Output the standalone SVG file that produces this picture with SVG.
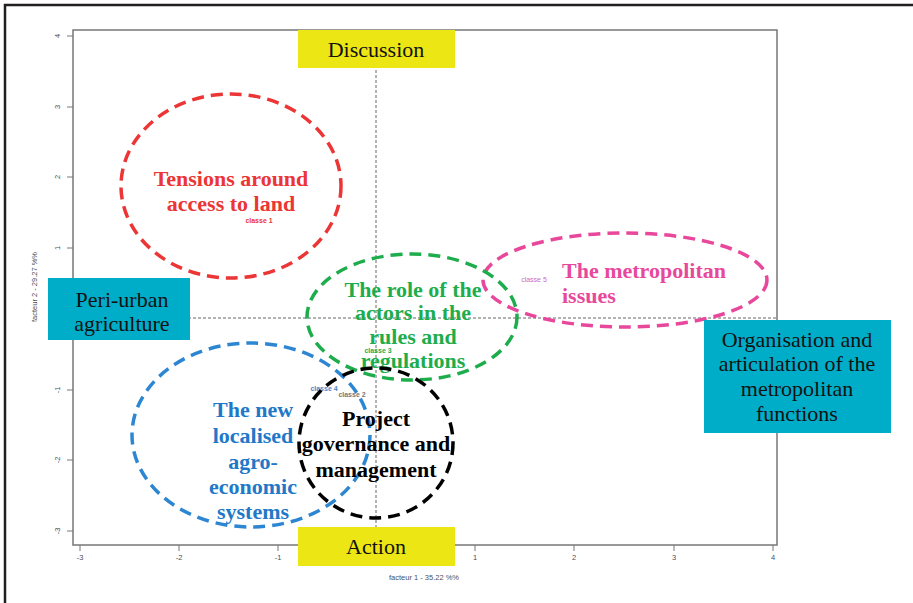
<svg xmlns="http://www.w3.org/2000/svg" width="913" height="603" viewBox="0 0 913 603">
<style>
.lbl{font-family:"Liberation Serif","Times New Roman",serif;font-weight:bold;font-size:22px;text-anchor:middle}
.box{font-family:"Liberation Serif","Times New Roman",serif;font-size:22px;fill:#111;text-anchor:middle}
.cls{font-family:"Liberation Sans",Arial,sans-serif;font-weight:bold;font-size:7px;text-anchor:middle}
.tick{font-family:"Liberation Sans",Arial,sans-serif;font-size:7.5px;fill:#4a4f5a;text-anchor:middle}
.ell{fill:none;stroke-width:3.5;stroke-dasharray:12 7}
.yel{fill:#ece614}
.cyan{fill:#00adc9}
</style>
<rect width="913" height="603" fill="#fff"/>
<path d="M5,603 V5 H913" fill="none" stroke="#231f20" stroke-width="2.5"/>
<g id="axes" fill="none" stroke="#777" stroke-width="1">
<rect x="73" y="30" width="704" height="515" stroke-width="1.5"/>
<line x1="73" y1="318" x2="777" y2="318" stroke="#666" stroke-dasharray="3 2"/>
<line x1="376" y1="30" x2="376" y2="545" stroke="#666" stroke-dasharray="3 2"/>
<path d="M80,545v6M179,545v6M278,545v6M376,545v6M475,545v6M574,545v6M674,545v6M773,545v6"/>
<path d="M73,36h-6M73,107h-6M73,177h-6M73,248h-6M73,390h-6M73,460h-6M73,531h-6"/>
</g>
<g id="axis-labels">
<text class="tick" x="80" y="560">-3</text>
<text class="tick" x="179" y="560">-2</text>
<text class="tick" x="278" y="560">-1</text>
<text class="tick" x="475" y="560">1</text>
<text class="tick" x="574" y="560">2</text>
<text class="tick" x="674" y="560">3</text>
<text class="tick" x="773" y="560">4</text>
<text class="tick" transform="translate(60,36) rotate(-90)">4</text>
<text class="tick" transform="translate(60,107) rotate(-90)">3</text>
<text class="tick" transform="translate(60,177) rotate(-90)">2</text>
<text class="tick" transform="translate(60,248) rotate(-90)">1</text>
<text class="tick" transform="translate(60,390) rotate(-90)">-1</text>
<text class="tick" transform="translate(60,460) rotate(-90)">-2</text>
<text class="tick" transform="translate(60,531) rotate(-90)">-3</text>
<text class="tick" x="424" y="580">facteur  1  - 35.22 %%</text>
<text class="tick" transform="translate(37,287) rotate(-90)">facteur 2 - 29.27 %%</text>
</g>
<g id="connectors"></g>
<g id="classe1">
<ellipse class="ell" cx="231" cy="186" rx="110" ry="92" stroke="#ec3535"/>
<text class="lbl" fill="#ec3535" x="231" y="186">Tensions around</text>
<text class="lbl" fill="#ec3535" x="231" y="211">access to land</text>
<text class="cls" fill="#ec3535" x="259" y="223">classe 1</text>
</g>
<g id="classe5">
<ellipse class="ell" cx="625" cy="280" rx="142" ry="47" stroke="#e8489b"/>
<text class="lbl" fill="#e8489b" x="562" y="278" style="text-anchor:start">The metropolitan</text>
<text class="lbl" fill="#e8489b" x="562" y="303" style="text-anchor:start">issues</text>
<text class="cls" fill="#c86bc0" x="534" y="282" style="font-weight:normal">classe 5</text>
</g>
<g id="classe4">
<ellipse class="ell" cx="251" cy="435" rx="119" ry="92" stroke="#2d86d2"/>
<text class="lbl" fill="#2178c8" x="253" y="417">The new</text>
<text class="lbl" fill="#2178c8" x="253" y="443">localised</text>
<text class="lbl" fill="#2178c8" x="253" y="469">agro-</text>
<text class="lbl" fill="#2178c8" x="253" y="494">economic</text>
<text class="lbl" fill="#2178c8" x="253" y="519">systems</text>
<text class="cls" fill="#4a86c8" x="324" y="391">classe 4</text>
</g>
<g id="classe3">
<ellipse class="ell" cx="412" cy="317" rx="105" ry="63" stroke="#1ead4c"/>
<text class="lbl" fill="#1ead4c" x="413" y="297">The role of the</text>
<text class="lbl" fill="#1ead4c" x="413" y="320">actors in the</text>
<text class="lbl" fill="#1ead4c" x="413" y="344">rules and</text>
<text class="lbl" fill="#1ead4c" x="413" y="368">regulations</text>
<text class="cls" fill="#1ead4c" x="378" y="353">classe 3</text>
</g>
<g id="classe2">
<ellipse class="ell" cx="376" cy="443" rx="77" ry="75" stroke="#000"/>
<text class="lbl" fill="#000" x="376" y="426">Project</text>
<text class="lbl" fill="#000" x="376" y="451">governance and</text>
<text class="lbl" fill="#000" x="376" y="477">management</text>
<text class="cls" fill="#777" x="352" y="397">classe 2</text>
</g>
<g id="discussion">
<rect class="yel" x="298" y="30" width="157" height="38"/>
<text class="box" x="376" y="57">Discussion</text>
</g>
<g id="action">
<rect class="yel" x="298" y="527" width="157" height="39"/>
<text class="box" x="376" y="554">Action</text>
</g>
<g id="peri-urban">
<rect class="cyan" x="48" y="278" width="142" height="62"/>
<text class="box" x="122" y="307">Peri-urban</text>
<text class="box" x="122" y="331">agriculture</text>
</g>
<g id="organisation">
<rect class="cyan" x="704" y="320" width="187" height="113"/>
<text class="box" x="797" y="347">Organisation and</text>
<text class="box" x="797" y="371">articulation of the</text>
<text class="box" x="797" y="396">metropolitan</text>
<text class="box" x="797" y="421">functions</text>
</g>
</svg>
